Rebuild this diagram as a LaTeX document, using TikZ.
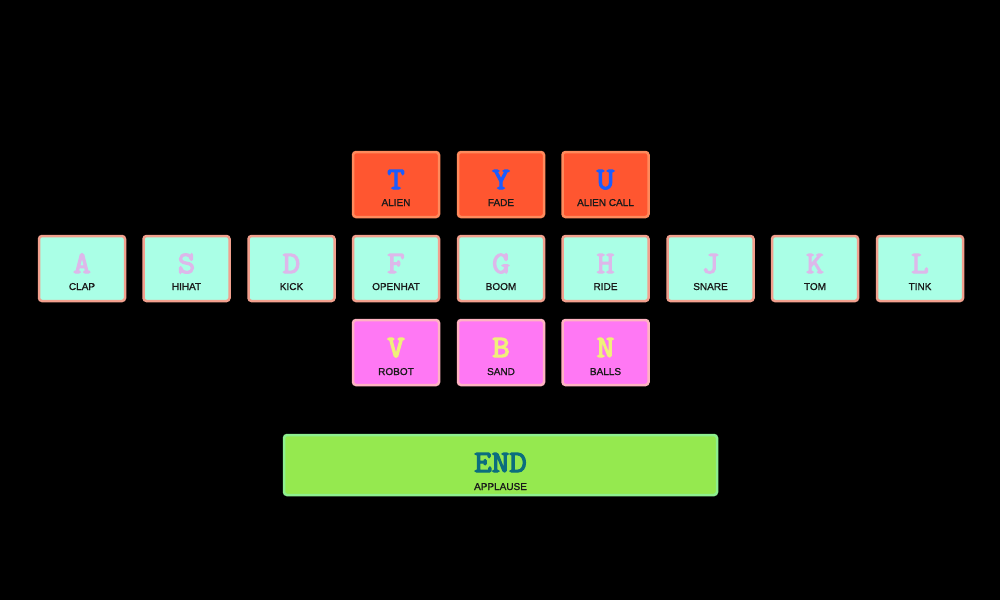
\documentclass[tikz,border=0pt]{standalone}
\usepackage{fontspec}
\setmainfont{Liberation Sans}
\newfontfamily\keyfont[FakeStretch=1.1]{Latin Modern Mono}
\newcommand\heavytext[1]{\special{pdf:literal direct q 2 Tr 1.2 w}#1\special{pdf:literal direct Q}}
\newcommand\semitext[1]{\special{pdf:literal direct q 2 Tr 0.12 w}#1\special{pdf:literal direct Q}}
\begin{document}
\begin{tikzpicture}[x=1pt,y=-1pt,
  keybox/.style={draw, line width=2.5pt, rounded corners=3pt, minimum width=86pt, minimum height=65pt, inner sep=0pt},
  toprow/.style={keybox, fill=topfill, draw=topedge},
  midrow/.style={keybox, fill=midfill, draw=midedge},
  botrow/.style={keybox, fill=botfill, draw=botedge},
  endbox/.style={draw=endedge, fill=endfill, line width=2.5pt, rounded corners=3pt, minimum width=433pt, minimum height=60pt, inner sep=0pt},
  letter/.style={font=\keyfont\fontsize{31}{31}\selectfont, anchor=base},
  lbl/.style={font=\fontsize{10}{10}\selectfont, text=labeltext, anchor=base}
]
\definecolor{topfill}{HTML}{FF5630}
\definecolor{topedge}{HTML}{FF8A5C}
\definecolor{topletter}{HTML}{1A5CFF}
\definecolor{midfill}{HTML}{AAFFE6}
\definecolor{midedge}{HTML}{F2A08E}
\definecolor{midletter}{HTML}{DDB8EA}
\definecolor{botfill}{HTML}{FF78F4}
\definecolor{botedge}{HTML}{FFB3C2}
\definecolor{botletter}{HTML}{F0F07A}
\definecolor{endfill}{HTML}{95E94F}
\definecolor{endedge}{HTML}{8EF08E}
\definecolor{endletter}{HTML}{0B6E7E}
\definecolor{labeltext}{HTML}{1A1A1A}
\fill[black] (0,0) rectangle (1000,600);
\useasboundingbox (0,0) rectangle (1000,600);
% top row
\foreach \n/\x/\k/\t in {kT/396/T/ALIEN, kY/501/Y/FADE, kU/605.5/U/ALIEN CALL}{
  \node[toprow] (\n) at (\x,184.5) {};
  \node[letter, text=topletter] (\n l) at (\x,189) {\heavytext{\k}};
  \node[lbl] (\n t) at (\x,206) {\semitext{\t}};
}
% middle row
\foreach \n/\x/\k/\t in {kA/82/A/CLAP, kS/186.5/S/HIHAT, kD/291.5/D/KICK, kF/396/F/OPENHAT, kG/501/G/BOOM, kH/605.5/H/RIDE, kJ/710.5/J/SNARE, kK/815/K/TOM, kL/920/L/TINK}{
  \node[midrow] (\n) at (\x,268.5) {};
  \node[letter, text=midletter] (\n l) at (\x,273) {\heavytext{\k}};
  \node[lbl] (\n t) at (\x,290) {\semitext{\t}};
}
% bottom row
\foreach \n/\x/\k/\t in {kV/396/V/ROBOT, kB/501/B/SAND, kN/605.5/N/BALLS}{
  \node[botrow] (\n) at (\x,352.5) {};
  \node[letter, text=botletter] (\n l) at (\x,357) {\heavytext{\k}};
  \node[lbl] (\n t) at (\x,375) {\semitext{\t}};
}
% end bar
\node[endbox] (kEnd) at (500.5,465) {};
\node[letter, text=endletter] (kEndl) at (500.5,472) {\heavytext{END}};
\node[lbl] (kEndt) at (500.5,490) {\semitext{APPLAUSE}};
\end{tikzpicture}
\end{document}
